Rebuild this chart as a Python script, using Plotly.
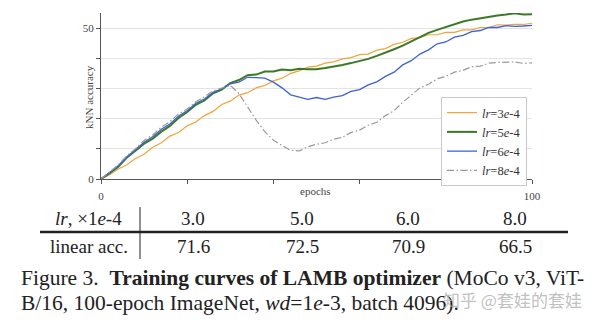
import plotly.graph_objects as go

# ---------------- data ----------------
epochs = list(range(0, 101, 2))

acc_lr3 = [0.0, 1.4, 3.3, 4.7, 6.8, 8.2, 10.5, 12.0, 14.2, 15.4, 17.6, 18.9, 21.0, 22.4,
           24.7, 25.8, 27.8, 28.6, 30.2, 31.0, 32.5, 33.4, 35.0, 35.8, 37.1, 37.4, 38.4,
           38.8, 39.8, 40.2, 41.2, 41.4, 42.7, 43.2, 44.6, 45.3, 46.6, 46.8, 47.8, 47.8,
           48.6, 48.6, 49.4, 49.4, 50.2, 50.2, 51.1, 51.0, 51.2, 51.2, 51.6]
acc_lr5 = [0.0, 1.9, 4.1, 7.1, 9.4, 11.7, 13.4, 15.7, 17.6, 20.2, 22.2, 24.6, 26.0, 28.4,
           29.6, 31.8, 32.8, 34.4, 34.6, 35.6, 35.6, 36.3, 36.0, 36.5, 36.4, 36.4, 36.8,
           37.2, 37.8, 38.4, 39.0, 39.8, 40.8, 41.8, 43.0, 44.2, 45.6, 47.0, 48.4, 49.4,
           50.4, 51.4, 52.2, 52.8, 53.3, 53.7, 54.2, 54.5, 54.9, 54.5, 54.6]
acc_lr6 = [0.0, 2.1, 4.4, 7.3, 9.6, 12.2, 14.0, 16.5, 18.2, 20.9, 22.6, 25.1, 26.5, 28.7,
           29.9, 31.5, 32.1, 33.7, 33.6, 33.4, 32.1, 30.2, 27.9, 27.2, 26.4, 27.0, 26.4,
           27.1, 27.6, 29.0, 29.6, 31.2, 32.2, 34.0, 35.4, 37.8, 39.2, 41.4, 42.8, 44.8,
           45.4, 47.0, 47.6, 48.8, 49.2, 50.2, 50.2, 50.8, 50.6, 50.7, 50.9]
acc_lr8 = [0.0, 2.3, 4.7, 7.7, 10.0, 12.8, 14.6, 17.2, 19.0, 21.6, 23.2, 25.6, 27.2, 29.2,
           30.2, 31.0, 28.3, 23.7, 19.5, 15.7, 12.9, 11.1, 9.5, 9.3, 10.7, 11.5, 12.0,
           13.2, 13.8, 15.4, 16.2, 17.8, 18.8, 21.0, 22.6, 25.4, 27.8, 30.2, 31.4, 33.2,
           34.0, 35.4, 36.0, 37.2, 37.4, 38.4, 38.6, 38.8, 38.8, 38.3, 38.5]

series_names = ["<i>lr</i>=3<i>e</i>-4", "<i>lr</i>=5<i>e</i>-4",
                "<i>lr</i>=6<i>e</i>-4", "<i>lr</i>=8<i>e</i>-4"]

table_lr = ["3.0", "5.0", "6.0", "8.0"]
table_acc = ["71.6", "72.5", "70.9", "66.5"]

# ---------------- figure geometry ----------------
W, H = 603, 327
L, R, T, B = 101, 532, 13, 179   # plot area in pixels
YMAX = 55


def px(x):
    return (x - L) / (R - L)


def py(y):
    return (B - y) / (B - T)


SERIF = "Liberation Serif, Times New Roman, serif"

fig = go.Figure()

styles = [
    dict(color="#efa53c", width=1.2),
    dict(color="#3a7a24", width=2.0),
    dict(color="#3d62d4", width=1.3),
    dict(color="#9a9a9a", width=1.2, dash="7px,2.5px,1.5px,2.5px"),
]
for name, ys, st in zip(series_names, [acc_lr3, acc_lr5, acc_lr6, acc_lr8], styles):
    fig.add_trace(go.Scatter(x=epochs, y=ys, mode="lines", name=name, line=st))

fig.update_layout(
    width=W, height=H,
    margin=dict(l=L, r=W - R, t=T, b=H - B),
    paper_bgcolor="white", plot_bgcolor="white",
    showlegend=True,
    legend=dict(
        x=px(441), y=py(97), xanchor="left", yanchor="top",
        bordercolor="#c8c8c8", borderwidth=1, bgcolor="white",
        font=dict(family=SERIF, size=12.5, color="#333"),
        tracegroupgap=0, itemwidth=30,
    ),
    xaxis=dict(
        range=[0, 100], showgrid=False, zeroline=False,
        showline=True, linecolor="#555", linewidth=1,
        ticks="outside", ticklen=4, tickcolor="#555", ticklabelstandoff=3,
        tickvals=[0, 20, 40, 60, 80, 100], ticktext=["0", "", "", "", "", "100"],
        tickfont=dict(family=SERIF, size=11, color="#444"),
    ),
    yaxis=dict(
        range=[0, YMAX], showgrid=True, gridcolor="#e4e4e4", gridwidth=1,
        zeroline=False, showline=True, linecolor="#555", linewidth=1,
        ticks="outside", ticklen=4, tickcolor="#555",
        tickvals=[0, 10, 20, 30, 40, 50], ticktext=["0", "", "", "", "", "50"],
        tickfont=dict(family=SERIF, size=11, color="#444"),
    ),
)


def note(x, y, text, font, xanchor="center", **kw):
    return dict(x=px(x), y=py(y), xref="paper", yref="paper", text=text,
                showarrow=False, xanchor=xanchor, yanchor="middle", font=font, **kw)


ann = []
AX = dict(family=SERIF, size=11, color="#444")
ann.append(note(315, 191, "epochs", AX))
ann.append(note(89, 97, "kNN accuracy", AX, textangle=-90))

# table
TF = dict(family=SERIF, size=19, color="#222")
col_x = [193, 302, 408, 515]
ann.append(note(88, 219, "<i>lr</i>, ×1<i>e</i>-4", TF))
ann.append(note(89, 246, "linear acc.", TF))
for cx, a, b in zip(col_x, table_lr, table_acc):
    ann.append(note(cx, 219, a, TF))
    ann.append(note(cx, 246, b, TF))

# caption
CF = dict(family=SERIF, size=21.5, color="#222")
ann.append(note(19, 278, "Figure 3.\u00a0 <b>Training curves of LAMB optimizer</b> (MoCo v3, ViT-",
                CF, xanchor="left"))
ann.append(note(19, 303, "B/16, 100-epoch ImageNet, <i>wd</i>=1<i>e</i>-3, batch 4096).",
                CF, xanchor="left"))
# watermark
ann.append(note(512, 299, "知乎 @套娃的套娃",
                dict(family="Noto Sans CJK SC", size=17, color="rgba(185,185,185,0.9)")))

fig.update_layout(annotations=ann)

shapes = [
    dict(type="line", xref="paper", yref="paper", x0=px(40), x1=px(568), y0=py(232), y1=py(232),
         line=dict(color="#222", width=2.4)),
    dict(type="line", xref="paper", yref="paper", x0=px(140), x1=px(140), y0=py(207), y1=py(259),
         line=dict(color="#222", width=1)),
]
fig.update_layout(shapes=shapes)

fig.write_html("out.html")
